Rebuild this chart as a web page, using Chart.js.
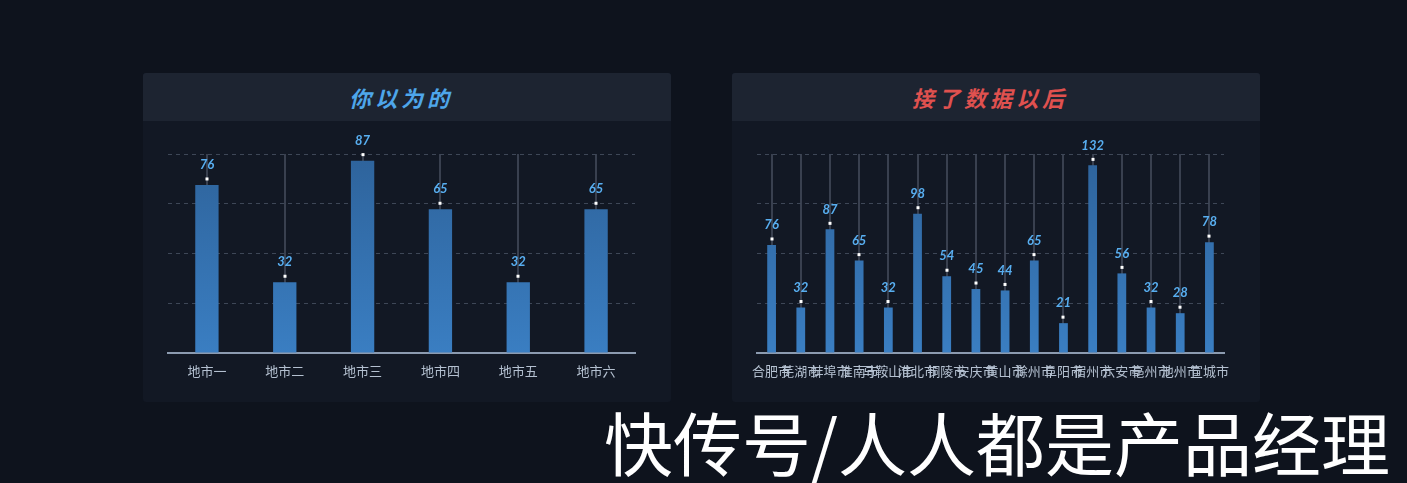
<!DOCTYPE html>
<html>
<head>
<meta charset="utf-8">
<script src="https://cdn.jsdelivr.net/npm/chart.js@4/dist/chart.umd.min.js"></script>
<style>
  html, body { margin: 0; padding: 0; }
  body { width: 1407px; height: 483px; background: #0e131d; position: relative; overflow: hidden;
         font-family: "Noto Sans CJK SC", "Noto Sans", sans-serif; }
  .panel { position: absolute; top: 73px; width: 528px; height: 329px; background: #121824; border-radius: 3px; }
  .head { height: 48px; background: #1d2431; border-radius: 3px 3px 0 0; text-align: center; padding-right: 12px;
          font-size: 22px; font-weight: bold; font-style: italic; letter-spacing: 4px; line-height: 48px; }
  .body { position: relative; width: 528px; height: 281px; }
  .mark { position: absolute; left: 604px; top: 407px; color: #fff; font-size: 69px; line-height: 1; white-space: nowrap; }
</style>
</head>
<body>
<div class="panel" style="left:143px">
  <div class="head" style="color:#4ea6ea">你以为的</div>
  <div class="body"><canvas id="c1" width="528" height="281"></canvas></div>
</div>
<div class="panel" style="left:732px">
  <div class="head" style="color:#e0514f">接了数据以后</div>
  <div class="body"><canvas id="c2" width="528" height="281"></canvas></div>
</div>
<div class="mark">快传号/人人都是产品经理</div>
<script>
// 你以为的
var cities1 = ["地市一", "地市二", "地市三", "地市四", "地市五", "地市六"];
var values1 = [76, 32, 87, 65, 32, 65];
var max1 = 90;

// 接了数据以后
var cities2 = ["合肥市", "芜湖市", "蚌埠市", "淮南市", "马鞍山市", "淮北市", "铜陵市", "安庆市",
               "黄山市", "滁州市", "阜阳市", "宿州市", "六安市", "亳州市", "池州市", "宣城市"];
var values2 = [76, 32, 87, 65, 32, 98, 54, 45, 44, 65, 21, 132, 56, 32, 28, 78];
var max2 = 140;

// 柱顶的小白点和数字
var topLabels = {
    id: 'topLabels',
    afterDraw: function(chart) {
        var ctx = chart.ctx;
        var meta = chart.getDatasetMeta(0);
        var data = chart.data.datasets[0].data;
        ctx.save();
        meta.data.forEach(function(bar, i) {
            ctx.fillStyle = '#ffffff';
            ctx.fillRect(Math.round(bar.x) - 1.5, bar.y - 7.5, 3, 3);
            ctx.fillStyle = '#58aef0';
            ctx.font = 'italic bold 13px Lato, "Open Sans", sans-serif';
            ctx.textAlign = 'center';
            ctx.textBaseline = 'middle';
            ctx.fillText(String(data[i]), bar.x, bar.y - 20);
        });
        ctx.restore();
    }
};

function barFill(context) {
    var area = context.chart.chartArea;
    if (!area) return '#3370b0';
    var g = context.chart.ctx.createLinearGradient(0, area.top, 0, area.bottom);
    g.addColorStop(0, '#2e639b');
    g.addColorStop(1, '#3a7ec2');
    return g;
}

function makeChart(id, labels, values, max, barPct) {
    var ctx = document.getElementById(id).getContext('2d');
    return new Chart(ctx, {
        type: 'bar',
        data: {
            labels: labels,
            datasets: [{
                data: values,
                backgroundColor: barFill,
                borderWidth: 0,
                barPercentage: barPct,
                categoryPercentage: 1
            }]
        },
        options: {
            responsive: false,
            animation: false,
            layout: { padding: { left: 25, right: 36, top: 33, bottom: 0 } },
            plugins: { legend: { display: false }, tooltip: { enabled: false } },
            scales: {
                x: {
                    z: 1,
                    grid: { offset: false, color: 'rgba(150,160,178,0.3)', lineWidth: 2, drawTicks: false },
                    border: { display: true, color: '#8c9bb0', width: 2 },
                    ticks: { autoSkip: false, maxRotation: 0, minRotation: 0, padding: 10,
                             color: '#b4c0d0', font: { size: 13, family: '"Noto Sans CJK SC", sans-serif' } },
                    afterFit: function(scale) { scale.height = 49; }
                },
                y: {
                    min: 0, max: max,
                    ticks: { display: false, stepSize: max / 4 },
                    grid: { color: '#3e4757', lineWidth: 1, drawTicks: false },
                    border: { display: false, dash: [4, 4] },
                    afterFit: function(scale) { scale.width = 0; }
                }
            }
        },
        plugins: [topLabels]
    });
}

makeChart('c1', cities1, values1, max1, 0.3);
makeChart('c2', cities2, values2, max2, 0.3);
</script>
</body>
</html>
